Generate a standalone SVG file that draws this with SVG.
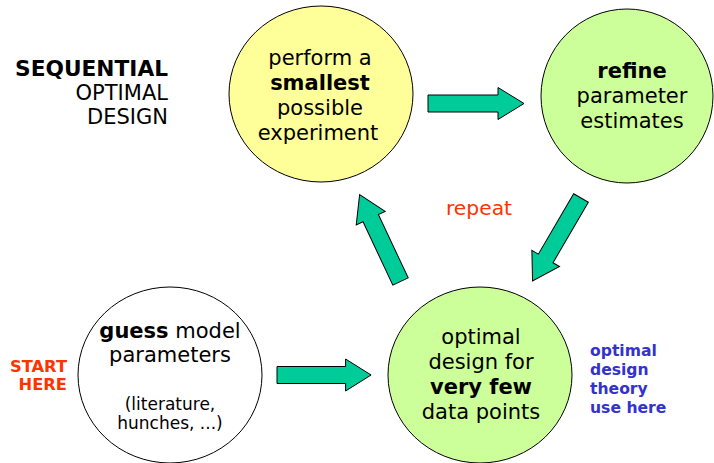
<svg xmlns="http://www.w3.org/2000/svg" width="714" height="463" viewBox="0 0 714 463">
<style>
text{font-family:"DejaVu Sans",Verdana,"Liberation Sans",sans-serif;fill:#000}
.n{font-size:21px;text-anchor:middle}
.b{font-weight:bold}
.s{font-size:17px;text-anchor:middle}
.node{stroke:#000;stroke-width:1}
.arr{fill:#00CC99;stroke:#000;stroke-width:1;stroke-linejoin:miter}
.title{font-size:21px;text-anchor:end}
.red{fill:#FF3300}
.blue{fill:#3333CC;font-weight:bold;font-size:15.6px}
</style>
<defs>
<polygon id="arrowShape" points="0,-8.5 70,-8.5 70,-16 96,0 70,16 70,8.5 0,8.5"/>
</defs>
<rect width="714" height="463" fill="#fff"/>
<g id="title">
<text class="title b" x="168" y="76" style="font-size:21.7px">SEQUENTIAL</text>
<text class="title" x="168" y="100">OPTIMAL</text>
<text class="title" x="168" y="124">DESIGN</text>
</g>
<g id="perform">
<ellipse class="node" cx="321" cy="94" rx="92" ry="88" fill="#FFFF99"/>
<text class="n" x="320" y="65">perform a</text>
<text class="n b" x="320" y="90">smallest</text>
<text class="n" x="320" y="115">possible</text>
<text class="n" x="318" y="140">experiment</text>
</g>
<g id="refine">
<ellipse class="node" cx="627" cy="96" rx="86" ry="87" fill="#CCFF99"/>
<text class="n b" x="632" y="78">refine</text>
<text class="n" x="632" y="103">parameter</text>
<text class="n" x="632" y="128">estimates</text>
</g>
<g id="optimal">
<ellipse class="node" cx="480" cy="375" rx="92" ry="88" fill="#CCFF99"/>
<text class="n" x="481" y="344">optimal</text>
<text class="n" x="481" y="369">design for</text>
<text class="n b" x="481" y="394">very few</text>
<text class="n" x="481" y="419">data points</text>
</g>
<g id="guess">
<ellipse class="node" cx="170" cy="375" rx="92" ry="88" fill="#FFFFFF"/>
<text class="n" x="170" y="338"><tspan class="b">guess</tspan> model</text>
<text class="n" x="170" y="362">parameters</text>
<text class="s" x="170" y="410">(literature,</text>
<text class="s" x="170" y="429">hunches, ...)</text>
</g>
<g id="labels">
<text class="red" x="479" y="215" font-size="20.3" text-anchor="middle">repeat</text>
<text class="red b" x="67" y="372" font-size="16.3" text-anchor="end">START</text>
<text class="red b" x="67" y="390" font-size="16.3" text-anchor="end">HERE</text>
<text class="blue" x="590" y="356">optimal</text>
<text class="blue" x="590" y="375">design</text>
<text class="blue" x="590" y="394">theory</text>
<text class="blue" x="590" y="413">use here</text>
</g>
<g id="connectors">
<use href="#arrowShape" class="arr" transform="translate(428,103.5)"/>
<use href="#arrowShape" class="arr" transform="translate(581,198) rotate(120.3)"/>
<use href="#arrowShape" class="arr" transform="translate(400.5,281.5) rotate(-115.2)"/>
<use href="#arrowShape" class="arr" transform="translate(277,375) scale(0.98,1)"/>
</g>
</svg>
